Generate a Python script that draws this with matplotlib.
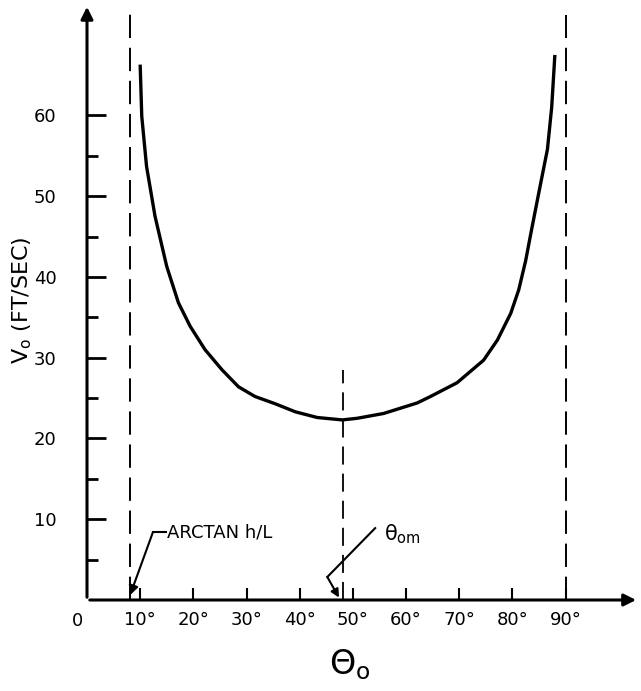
import matplotlib
matplotlib.use('Agg')
import matplotlib.pyplot as plt

# curve: launch angle (deg) vs launch speed (ft/sec)
theta = [10.0, 10.3, 11.2, 12.8, 15.0, 17.2, 19.4, 22.2, 25.4, 28.5, 31.6,
         35.4, 39.2, 43.3, 48.0, 50.8, 55.8, 62.1, 64.6, 69.6, 74.6, 77.2, 79.7,
         81.2, 82.5, 83.6, 85.3, 86.6, 87.4, 88.0]
v0 = [66.3, 59.9, 53.7, 47.5, 41.3, 36.8, 33.9, 31.0, 28.5, 26.4, 25.2,
      24.3, 23.3, 22.6, 22.3, 22.5, 23.1, 24.4, 25.2, 26.9, 29.7, 32.2, 35.5,
      38.4, 42.0, 45.8, 51.5, 55.8, 61.0, 67.5]

theta_arctan = 8.1     # arctan h/L
theta_om = 48.1        # angle of minimum speed
theta_max = 90

xticks = [10, 20, 30, 40, 50, 60, 70, 80, 90]
xtick_labels = ['10°', '20°', '30°', '40°', '50°', '60°', '70°', '80°', '90°']
yticks = [10, 20, 30, 40, 50, 60]
yticks_minor = [5, 15, 25, 35, 45, 55]

plt.rcParams['font.family'] = ['DejaVu Sans']
fig = plt.figure(figsize=(6.41, 6.91), dpi=100)
ax = fig.add_axes([87 / 641, 91 / 691, 554 / 641, 600 / 691])
ax.set_xlim(0, 104.2)
ax.set_ylim(0, 74.3)
for s in ax.spines.values():
    s.set_visible(False)

# axes with arrow heads
ax.annotate('', xy=(103.8, 0), xytext=(0, 0),
            arrowprops=dict(arrowstyle='-|>', lw=2.2, color='k', mutation_scale=18))
ax.annotate('', xy=(0, 73.8), xytext=(0, 0),
            arrowprops=dict(arrowstyle='-|>', lw=2.2, color='k', mutation_scale=18))

ax.set_xticks(xticks)
ax.set_xticklabels(xtick_labels, fontsize=13)
ax.set_yticks(yticks)
ax.set_yticks(yticks_minor, minor=True)
ax.tick_params(axis='x', direction='in', length=9, width=1.5, pad=8)
ax.tick_params(axis='y', which='major', direction='in', length=14, width=2, pad=22, labelsize=13)
ax.tick_params(axis='y', which='minor', direction='in', length=8, width=2)
ax.annotate('0', xy=(0, 0), xytext=(-7, -15), textcoords='offset points',
            ha='center', va='center', fontsize=13)

# dashed guide lines
ax.plot([theta_arctan, theta_arctan], [0, 73.4], color='k', lw=1.4, dashes=(12, 5))
ax.plot([theta_max, theta_max], [0, 72.5], color='k', lw=1.4, dashes=(12, 5))
ax.plot([theta_om, theta_om], [0, 28.5], color='k', lw=1.3, dashes=(10, 5))

# the curve
ax.plot(theta, v0, color='k', lw=2.4, solid_capstyle='butt', solid_joinstyle='round')

# annotations
ax.text(15.1, 8.4, 'ARCTAN h/L', fontsize=13, va='center', ha='left')
ax.plot([12.4, 14.8], [8.4, 8.4], color='k', lw=1.5)
ax.annotate('', xy=(theta_arctan, 0.6), xytext=(12.4, 8.4),
            arrowprops=dict(arrowstyle='-|>', lw=1.5, color='k', mutation_scale=14,
                            shrinkA=0, shrinkB=0))

ax.text(55.8, 8.2, 'θ$_{\\mathrm{om}}$', fontsize=15, va='center', ha='left')
ax.plot([54.2, 45.2], [8.9, 2.85], color='k', lw=1.5)
ax.annotate('', xy=(47.4, 0.3), xytext=(45.2, 2.85),
            arrowprops=dict(arrowstyle='-|>', lw=1.5, color='k', mutation_scale=12,
                            shrinkA=0, shrinkB=0))

ax.set_ylabel('V$_{\\mathrm{o}}$ (FT/SEC)', fontsize=16)
ax.yaxis.set_label_coords(-53 / 554, 0.5)
fig.text(350 / 641, 1 - 665 / 691, 'Θ$_{\\mathrm{o}}$', fontsize=24, ha='center', va='center')

fig.savefig('out.png', dpi=100)
